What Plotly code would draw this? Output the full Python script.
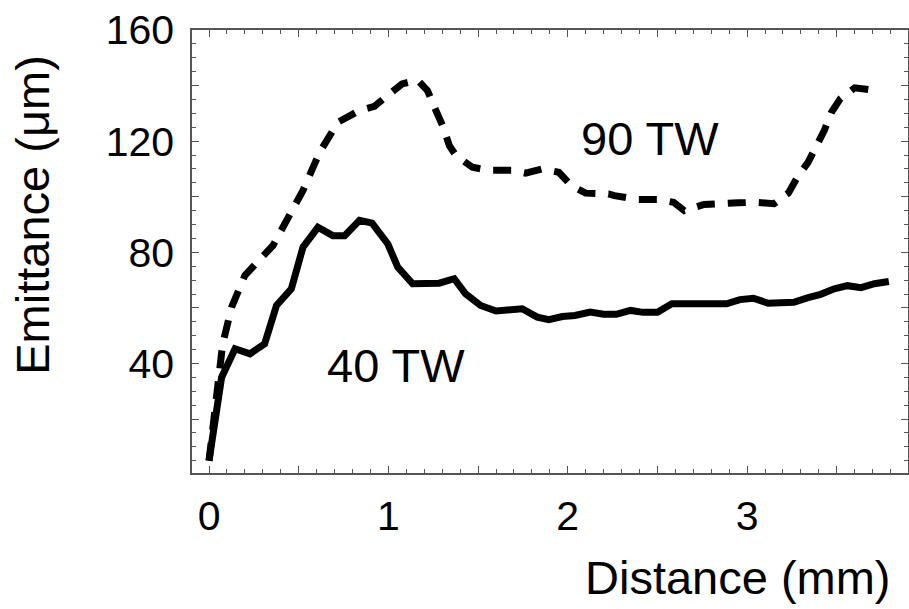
import plotly.graph_objects as go

# 40 TW (solid)
x40 = [0, 0.07, 0.145, 0.228, 0.31, 0.376, 0.459, 0.524, 0.607, 0.69, 0.756, 0.839, 0.909, 0.997,
       1.052, 1.135, 1.283, 1.367, 1.43, 1.514, 1.6, 1.746, 1.83, 1.894, 1.97, 2.04, 2.125, 2.2,
       2.27, 2.35, 2.42, 2.5, 2.58, 2.66, 2.8, 2.885, 2.96, 3.035, 3.117, 3.19, 3.26, 3.34, 3.41,
       3.486, 3.56, 3.635, 3.71, 3.79]
y40 = [5, 35, 45.3, 43.5, 47.1, 60.9, 66.9, 81.9, 89, 86, 86, 91.5, 90.5, 83,
       74.7, 68.7, 68.9, 70.5, 65.1, 60.9, 58.9, 59.7, 56.7, 55.8, 56.9, 57.3, 58.5, 57.7,
       57.7, 59.1, 58.4, 58.4, 61.5, 61.5, 62.1, 61.5, 63, 63.5, 61.7, 62.1, 62, 63.7, 64.9,
       66.9, 68, 67.3, 68.7, 69.5]

# 90 TW (dashed)
x90 = [0, 0.033, 0.057, 0.076, 0.126, 0.2, 0.357, 0.428, 0.524, 0.617, 0.718, 0.839, 0.922, 1.006,
       1.076, 1.163, 1.218, 1.265, 1.302, 1.34, 1.376, 1.468, 1.56, 1.69, 1.765, 1.857, 1.95, 2.02,
       2.1, 2.227, 2.26, 2.39, 2.5, 2.59, 2.65, 2.76, 2.86, 2.95, 3.05, 3.15, 3.23, 3.28, 3.34,
       3.39, 3.43, 3.47, 3.52, 3.6, 3.72]
y90 = [5, 23, 36.3, 47, 60.3, 71.7, 82.5, 91.5, 102.3, 116, 126.8, 131, 132.5, 137,
       140.6, 142, 138.2, 131, 125.6, 118.4, 114.9, 110.6, 109.5, 109.5, 108.5, 110, 108.8, 104,
       101.3, 101, 100.4, 99, 99, 98, 95, 97.2, 97.2, 97.8, 98, 97.5, 101.3, 107, 112.4,
       118.5, 123.8, 130.4, 135.3, 139.2, 138.2]

xtick_vals = [0, 0.5, 1, 1.5, 2, 2.5, 3, 3.5]
xtick_text = ["0", "", "1", "", "2", "", "3", ""]
ytick_vals = [20, 40, 60, 80, 100, 120, 140, 160]
ytick_text = ["", "40", "", "80", "", "120", "", "160"]

FONT = "Liberation Sans, Arial, sans-serif"
XR = [-0.095, 3.897]
YR = [0.6, 160]
AX = "#555555"

fig = go.Figure()
fig.add_trace(go.Scatter(x=x90, y=y90, mode="lines",
                         line=dict(color="black", width=7, dash="18px,13px"),
                         showlegend=False))
fig.add_trace(go.Scatter(x=x40, y=y40, mode="lines",
                         line=dict(color="black", width=7),
                         showlegend=False))
# invisible trace so the mirror (top/right) tick axes are drawn
fig.add_trace(go.Scatter(x=[x40[0]], y=[y40[0]], xaxis="x2", yaxis="y2", mode="markers",
                         marker=dict(opacity=0), showlegend=False, hoverinfo="skip"))

common = dict(showgrid=False, zeroline=False, showline=True, linecolor=AX,
              linewidth=1.5, ticks="inside", tickcolor=AX, tickwidth=1, ticklen=7,
              tickfont=dict(family=FONT, size=41, color="black"))
xminor = dict(dtick=0.1, ticks="inside", ticklen=4, tickcolor=AX, tickwidth=1)
yminor = dict(dtick=5, ticks="inside", ticklen=4, tickcolor=AX, tickwidth=1)

fig.update_layout(
    xaxis=dict(range=XR, tickmode="array", tickvals=xtick_vals, ticktext=xtick_text,
               ticklabelstandoff=6, minor=xminor, **common),
    yaxis=dict(range=YR, tickmode="array", tickvals=ytick_vals, ticktext=ytick_text,
               ticklabelstandoff=8, minor=yminor, **common),
    xaxis2=dict(range=XR, tickmode="array", tickvals=xtick_vals, showticklabels=False,
                overlaying="x", side="top", anchor="y", minor=xminor, **common),
    yaxis2=dict(range=YR, tickmode="array", tickvals=ytick_vals, showticklabels=False,
                overlaying="y", side="right", anchor="x", minor=yminor, **common),
)

fig.add_annotation(x=2.46, y=120.8, xref="x", yref="y", text="90 TW", showarrow=False,
                   font=dict(family=FONT, size=47, color="black"))
fig.add_annotation(x=1.044, y=39.3, xref="x", yref="y", text="40 TW", showarrow=False,
                   font=dict(family=FONT, size=47, color="black"))
fig.add_annotation(x=0.762, y=-0.237, xref="paper", yref="paper", text="Distance (mm)",
                   showarrow=False, xanchor="center", yanchor="middle",
                   font=dict(family=FONT, size=47, color="black"))
fig.add_annotation(x=-0.222, y=0.583, xref="paper", yref="paper", text="Emittance (μm)",
                   showarrow=False, textangle=-90, xanchor="center", yanchor="middle",
                   font=dict(family=FONT, size=47, color="black"))

fig.update_layout(width=909, height=609, margin=dict(l=192, r=1, t=30, b=136),
                  plot_bgcolor="white", paper_bgcolor="white")

fig.write_html("out.html")
